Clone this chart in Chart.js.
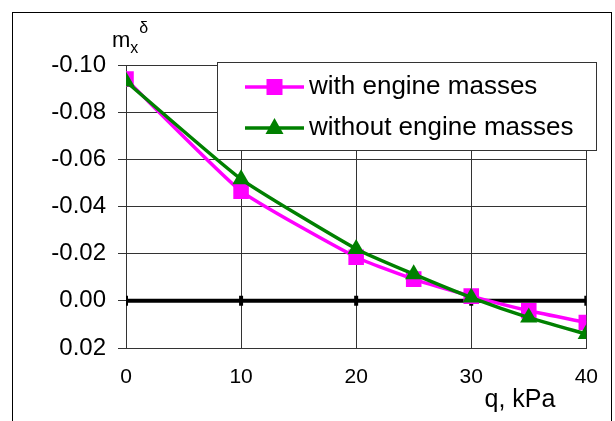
<!DOCTYPE html>
<html>
<head>
<meta charset="utf-8">
<script src="https://cdn.jsdelivr.net/npm/chart.js@4/dist/chart.umd.min.js"></script>
<style>
  html, body { margin: 0; padding: 0; background: #fff; }
  #wrap { width: 615px; height: 421px; position: relative; }
</style>
</head>
<body>
<div id="wrap"><canvas id="c" width="615" height="421"></canvas></div>
<script>
// ---- data ----
const qValues = [0, 10, 20, 25, 30, 35, 40];
const withEngine = [-0.094, -0.0465, -0.0185, -0.0092, -0.0020, 0.0042, 0.0092];
const withoutEngine = [-0.093, -0.0516, -0.0220, -0.0113, -0.0014, 0.0071, 0.0141];
const zeroLineX = [0, 10, 20, 30, 40];
const seriesNames = ['with engine masses', 'without engine masses'];
const yTicks = [-0.10, -0.08, -0.06, -0.04, -0.02, 0.00, 0.02];
const xTicks = [0, 10, 20, 30, 40];

const FONT = "'Liberation Sans', Arial, sans-serif";
const MAGENTA = '#FF00FF';
const GREEN = '#008000';

function pts(xs, ys) { return xs.map((x, i) => ({ x: x, y: ys[i] })); }

const framePlugin = {
  id: 'frame',
  afterDraw(chart) {
    const ctx = chart.ctx;
    ctx.save();
    // outer border
    ctx.strokeStyle = '#000';
    ctx.lineWidth = 1;
    ctx.strokeRect(12.5, 12.5, 599, 420);
    // y-axis label m_x^delta
    ctx.fillStyle = '#000';
    ctx.textBaseline = 'alphabetic';
    ctx.textAlign = 'left';
    ctx.font = '22px ' + FONT;
    ctx.fillText('m', 112, 47);
    const mw = ctx.measureText('m').width;
    ctx.font = '16px ' + FONT;
    ctx.fillText('x', 112 + mw, 53);
    const xw = ctx.measureText('x').width;
    ctx.fillText('δ', 112 + mw + xw + 1, 33);
    // x-axis title
    ctx.font = '25px ' + FONT;
    ctx.textAlign = 'center';
    ctx.textBaseline = 'middle';
    ctx.fillText('q, kPa', 520, 400);
    // legend
    const lx = 217.5, ly = 62.5, lw = 379, lh = 88;
    ctx.fillStyle = '#fff';
    ctx.fillRect(lx, ly, lw, lh);
    ctx.strokeStyle = '#333';
    ctx.lineWidth = 1;
    ctx.strokeRect(lx, ly, lw, lh);
    const rows = [
      { y: 87, color: MAGENTA, style: 'rect', name: seriesNames[0] },
      { y: 128, color: GREEN, style: 'triangle', name: seriesNames[1] }
    ];
    rows.forEach(r => {
      ctx.strokeStyle = r.color;
      ctx.lineWidth = 3.5;
      ctx.beginPath();
      ctx.moveTo(245, r.y);
      ctx.lineTo(304, r.y);
      ctx.stroke();
      ctx.fillStyle = r.color;
      const cx = 274.5;
      if (r.style === 'rect') {
        ctx.fillRect(cx - 8, r.y - 8, 16, 16);
      } else {
        ctx.beginPath();
        ctx.moveTo(cx, r.y - 10);
        ctx.lineTo(cx + 9, r.y + 6);
        ctx.lineTo(cx - 9, r.y + 6);
        ctx.closePath();
        ctx.fill();
      }
      ctx.fillStyle = '#000';
      ctx.font = '26px ' + FONT;
      ctx.textAlign = 'left';
      ctx.textBaseline = 'middle';
      ctx.fillText(r.name, 309, r.y);
    });
    ctx.restore();
  }
};

new Chart(document.getElementById('c'), {
  type: 'line',
  data: {
    datasets: [
      {
        label: seriesNames[0],
        data: pts(qValues, withEngine),
        borderColor: MAGENTA,
        backgroundColor: MAGENTA,
        borderWidth: 3.5,
        pointStyle: 'rect',
        pointRadius: 11,
        pointBorderWidth: 0,
        tension: 0.15,
        order: 2
      },
      {
        label: seriesNames[1],
        data: pts(qValues, withoutEngine),
        borderColor: GREEN,
        backgroundColor: GREEN,
        borderWidth: 3.5,
        pointStyle: 'triangle',
        pointRadius: 10,
        pointBorderWidth: 0,
        tension: 0.15,
        order: 1
      },
      {
        label: 'zero',
        data: pts(zeroLineX, zeroLineX.map(() => 0)),
        borderColor: '#000',
        backgroundColor: '#000',
        borderWidth: 4,
        pointStyle: 'line',
        pointRotation: 90,
        pointRadius: 5,
        pointBorderWidth: 4,
        tension: 0,
        order: 10
      }
    ]
  },
  options: {
    responsive: false,
    animation: false,
    events: [],
    layout: { padding: { left: 0, top: 65, right: 27, bottom: 0 } },
    plugins: { legend: { display: false }, tooltip: { enabled: false } },
    scales: {
      x: {
        type: 'linear',
        min: 0, max: 40,
        afterBuildTicks(scale) { scale.ticks = xTicks.map(v => ({ value: v })); },
        afterFit(scale) { scale.height = 421 - 348; },
        grid: { color: '#333', lineWidth: 1, drawTicks: false },
        border: { color: '#333', width: 1 },
        ticks: {
          color: '#000',
          font: { family: FONT, size: 21 },
          padding: 17,
          maxRotation: 0,
          callback: v => String(v)
        }
      },
      y: {
        type: 'linear',
        reverse: true,
        min: -0.10, max: 0.02,
        afterBuildTicks(scale) { scale.ticks = yTicks.map(v => ({ value: v })); },
        afterFit(scale) { scale.width = 126; },
        grid: { color: '#333', lineWidth: 1, drawTicks: true, tickLength: 8 },
        border: { color: '#333', width: 1 },
        ticks: {
          color: '#000',
          font: { family: FONT, size: 24 },
          padding: 12,
          callback: v => (Math.abs(v) < 1e-9 ? 0 : v).toFixed(2)
        }
      }
    }
  },
  plugins: [framePlugin]
});
</script>
</body>
</html>
